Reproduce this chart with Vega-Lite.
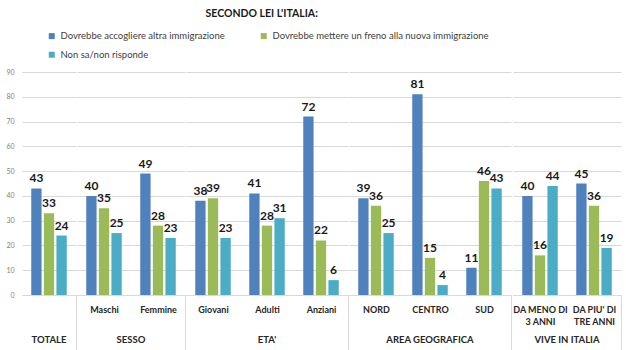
{
  "$schema": "https://vega.github.io/schema/vega-lite/v6.json",
  "padding": {"left": 5, "top": 8, "right": 8, "bottom": 0},
  "title": {"text": "SECONDO LEI L'ITALIA:", "fontSize": 10.5, "fontWeight": "bold", "font": "Lato", "color": "#1a1a1a", "anchor": "middle", "dx": -52, "offset": 12},
  "data": {"values": [
    {"group": "TOTALE", "cat": "TOTALE", "series": "Dovrebbe accogliere altra immigrazione", "value": 43},
    {"group": "TOTALE", "cat": "TOTALE", "series": "Dovrebbe mettere un freno alla nuova immigrazione", "value": 33},
    {"group": "TOTALE", "cat": "TOTALE", "series": "Non sa/non risponde", "value": 24},
    {"group": "SESSO", "cat": "Maschi", "series": "Dovrebbe accogliere altra immigrazione", "value": 40},
    {"group": "SESSO", "cat": "Maschi", "series": "Dovrebbe mettere un freno alla nuova immigrazione", "value": 35},
    {"group": "SESSO", "cat": "Maschi", "series": "Non sa/non risponde", "value": 25},
    {"group": "SESSO", "cat": "Femmine", "series": "Dovrebbe accogliere altra immigrazione", "value": 49},
    {"group": "SESSO", "cat": "Femmine", "series": "Dovrebbe mettere un freno alla nuova immigrazione", "value": 28},
    {"group": "SESSO", "cat": "Femmine", "series": "Non sa/non risponde", "value": 23},
    {"group": "ETA'", "cat": "Giovani", "series": "Dovrebbe accogliere altra immigrazione", "value": 38},
    {"group": "ETA'", "cat": "Giovani", "series": "Dovrebbe mettere un freno alla nuova immigrazione", "value": 39},
    {"group": "ETA'", "cat": "Giovani", "series": "Non sa/non risponde", "value": 23},
    {"group": "ETA'", "cat": "Adulti", "series": "Dovrebbe accogliere altra immigrazione", "value": 41},
    {"group": "ETA'", "cat": "Adulti", "series": "Dovrebbe mettere un freno alla nuova immigrazione", "value": 28},
    {"group": "ETA'", "cat": "Adulti", "series": "Non sa/non risponde", "value": 31},
    {"group": "ETA'", "cat": "Anziani", "series": "Dovrebbe accogliere altra immigrazione", "value": 72},
    {"group": "ETA'", "cat": "Anziani", "series": "Dovrebbe mettere un freno alla nuova immigrazione", "value": 22},
    {"group": "ETA'", "cat": "Anziani", "series": "Non sa/non risponde", "value": 6},
    {"group": "AREA GEOGRAFICA", "cat": "NORD", "series": "Dovrebbe accogliere altra immigrazione", "value": 39},
    {"group": "AREA GEOGRAFICA", "cat": "NORD", "series": "Dovrebbe mettere un freno alla nuova immigrazione", "value": 36},
    {"group": "AREA GEOGRAFICA", "cat": "NORD", "series": "Non sa/non risponde", "value": 25},
    {"group": "AREA GEOGRAFICA", "cat": "CENTRO", "series": "Dovrebbe accogliere altra immigrazione", "value": 81},
    {"group": "AREA GEOGRAFICA", "cat": "CENTRO", "series": "Dovrebbe mettere un freno alla nuova immigrazione", "value": 15},
    {"group": "AREA GEOGRAFICA", "cat": "CENTRO", "series": "Non sa/non risponde", "value": 4},
    {"group": "AREA GEOGRAFICA", "cat": "SUD", "series": "Dovrebbe accogliere altra immigrazione", "value": 11},
    {"group": "AREA GEOGRAFICA", "cat": "SUD", "series": "Dovrebbe mettere un freno alla nuova immigrazione", "value": 46},
    {"group": "AREA GEOGRAFICA", "cat": "SUD", "series": "Non sa/non risponde", "value": 43},
    {"group": "VIVE IN ITALIA", "cat": "DA MENO DI|3 ANNI", "series": "Dovrebbe accogliere altra immigrazione", "value": 40},
    {"group": "VIVE IN ITALIA", "cat": "DA MENO DI|3 ANNI", "series": "Dovrebbe mettere un freno alla nuova immigrazione", "value": 16},
    {"group": "VIVE IN ITALIA", "cat": "DA MENO DI|3 ANNI", "series": "Non sa/non risponde", "value": 44},
    {"group": "VIVE IN ITALIA", "cat": "DA PIU' DI|TRE ANNI", "series": "Dovrebbe accogliere altra immigrazione", "value": 45},
    {"group": "VIVE IN ITALIA", "cat": "DA PIU' DI|TRE ANNI", "series": "Dovrebbe mettere un freno alla nuova immigrazione", "value": 36},
    {"group": "VIVE IN ITALIA", "cat": "DA PIU' DI|TRE ANNI", "series": "Non sa/non risponde", "value": 19}
  ]},
  "facet": {
    "column": {
      "field": "group",
      "type": "nominal",
      "sort": ["TOTALE", "SESSO", "ETA'", "AREA GEOGRAFICA", "VIVE IN ITALIA"],
      "title": null,
      "header": {"labelOrient": "bottom", "labelFont": "Lato", "labelFontWeight": "bold", "labelFontSize": 9.5, "labelColor": "#262626", "labelPadding": -16}
    }
  },
  "spacing": 0,
  "resolve": {"scale": {"x": "independent", "xOffset": "independent"}},
  "spec": {
    "width": {"step": 54, "for": "position"},
    "height": 223,
    "encoding": {
      "x": {
        "field": "cat",
        "type": "nominal",
        "sort": null,
        "title": null,
        "scale": {"paddingInner": 0, "paddingOuter": 0},
        "axis": {
          "labelAngle": 0,
          "labelFont": "Lato",
          "labelFontWeight": "bold",
          "labelFontSize": 9,
          "labelLineHeight": 12.5,
          "labelColor": "#262626",
          "labelPadding": -45,
          "labelExpr": "datum.label == 'TOTALE' ? '' : split(datum.label, '|')",
          "domainColor": "#d9d9d9",
          "tickBand": "extent",
          "tickSize": 55,
          "tickColor": "#d9d9d9",
          "tickOpacity": {"condition": {"test": "indexof(['TOTALE','Femmine','Anziani','SUD','DA PIU\\' DI|TRE ANNI'], datum.value) >= 0", "value": 1}, "value": 0}
        }
      },
      "xOffset": {"field": "series", "type": "nominal", "scale": {"paddingInner": 0.18, "paddingOuter": 0.735}},
      "y": {
        "field": "value",
        "type": "quantitative",
        "title": null,
        "scale": {"domain": [0, 90], "nice": false},
        "axis": {"values": [0, 10, 20, 30, 40, 50, 60, 70, 80, 90], "labelFont": "Lato", "labelFontSize": 7, "labelColor": "#7f7f7f", "domain": false, "ticks": false, "gridColor": "#d9d9d9", "labelPadding": 8}
      }
    },
    "layer": [
      {
        "mark": {"type": "bar"},
        "encoding": {
          "color": {
            "field": "series",
            "type": "nominal",
            "scale": {"domain": ["Dovrebbe accogliere altra immigrazione", "Dovrebbe mettere un freno alla nuova immigrazione", "Non sa/non risponde"], "range": ["#4f81bd", "#9bbb59", "#4bacc6"]},
            "legend": {
              "title": null,
              "orient": "none",
              "legendX": 25,
              "legendY": -41,
              "direction": "horizontal",
              "columns": 2,
              "symbolType": "square",
              "symbolSize": 36,
              "symbolStrokeWidth": 0,
              "labelFont": "Lato",
              "labelFontSize": 9.5,
              "labelColor": "#404040",
              "labelLimit": 400,
              "columnPadding": 34,
              "rowPadding": 8,
              "padding": 0
            }
          }
        }
      },
      {
        "mark": {"type": "text", "baseline": "bottom", "dy": -3, "font": "Lato", "fontWeight": "bold", "fontSize": 12, "color": "#1a1a1a"},
        "encoding": {"text": {"field": "value", "type": "quantitative"}}
      }
    ]
  },
  "config": {"view": {"stroke": null}, "background": "white"}
}
